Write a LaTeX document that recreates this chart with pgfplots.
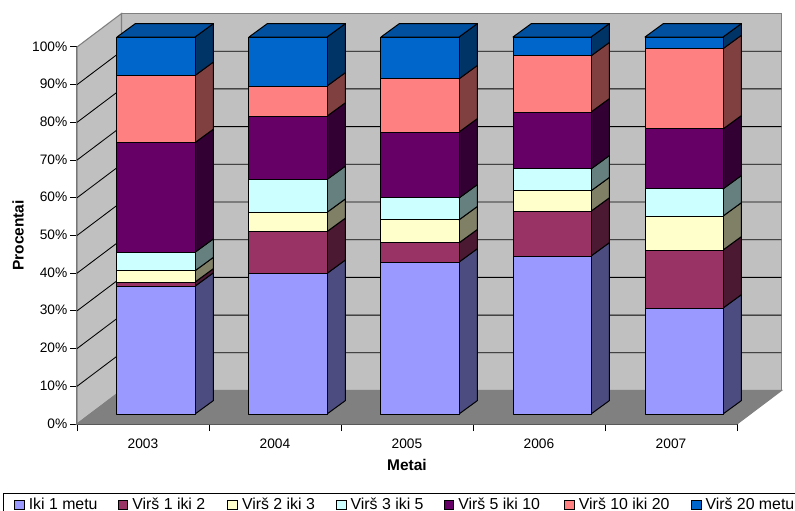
\documentclass[border=0pt]{standalone}
\usepackage{fontspec}
\setmainfont{Liberation Sans}
\usepackage{pgfplots}
\pgfplotsset{compat=1.18}

% Excel-style palette: face colours, sides are the faces at half brightness
\definecolor{serA}{HTML}{9999FF}
\definecolor{serB}{HTML}{993366}
\definecolor{serC}{HTML}{FFFFCC}
\definecolor{serD}{HTML}{CCFFFF}
\definecolor{serE}{HTML}{660066}
\definecolor{serF}{HTML}{FF8080}
\definecolor{serG}{HTML}{0066CC}
\definecolor{serGtop}{HTML}{00509F}
\definecolor{wallgrey}{HTML}{C0C0C0}
\definecolor{floorgrey}{HTML}{808080}

% Oblique depth of the bars, in axis units
\newcommand\liftY{2.65}
\newcommand\backX{0.14}
\newcommand\backY{3.58}

% One stacked segment: cell index, lower and upper percentage, colour
\newcommand\segment[4]{%
  \pgfmathsetmacro\xa{#1+0.303}%
  \pgfmathsetmacro\xb{#1+0.894}%
  \pgfmathsetmacro\xc{\xb+\backX}%
  \pgfmathsetmacro\ya{#2+\liftY}%
  \pgfmathsetmacro\yb{#3+\liftY}%
  \pgfmathsetmacro\yc{#2+\liftY+\backY}%
  \pgfmathsetmacro\yd{#3+\liftY+\backY}%
  \addplot[forget plot, barline, fill=#4!50!black]
    coordinates {(\xb,\ya) (\xc,\yc) (\xc,\yd) (\xb,\yb)} --cycle;
  \addplot[forget plot, barline, fill=#4]
    coordinates {(\xa,\ya) (\xb,\ya) (\xb,\yb) (\xa,\yb)} --cycle;
}
% Lid of a bar, at 100 %
\newcommand\barlid[1]{%
  \pgfmathsetmacro\xa{#1+0.303}%
  \pgfmathsetmacro\xb{#1+0.894}%
  \pgfmathsetmacro\ya{100+\liftY}%
  \pgfmathsetmacro\yb{100+\liftY+\backY}%
  \pgfmathsetmacro\xc{\xa+\backX}%
  \pgfmathsetmacro\xd{\xb+\backX}%
  \addplot[forget plot, barline, fill=serGtop]
    coordinates {(\xa,\ya) (\xb,\ya) (\xd,\yb) (\xc,\yb)} --cycle;
}
% Whole column: cell index, then the six cumulative boundaries
\newcommand\column[7]{%
  \segment{#1}{0}{#2}{serA}%
  \segment{#1}{#2}{#3}{serB}%
  \segment{#1}{#3}{#4}{serC}%
  \segment{#1}{#4}{#5}{serD}%
  \segment{#1}{#5}{#6}{serE}%
  \segment{#1}{#6}{#7}{serF}%
  \segment{#1}{#7}{100}{serG}%
  \barlid{#1}%
}

\pgfplotsset{
  barline/.style={draw=black, line width=0.75pt, line join=round},
  swatch/.style={legend image code/.code={%
    \draw[fill=#1, draw=black, line width=0.75pt] (0,-3.4pt) rectangle (7.2pt,3.4pt);}},
}

\begin{document}
\begin{tikzpicture}
\path[clip, use as bounding box] (0,0) rectangle (596.25pt,382.5pt);
\begin{axis}[
  at={(57.75pt,64.5pt)}, anchor=south west,
  scale only axis, width=495pt, height=282.75pt,
  xmin=0, xmax=5, ymin=0, ymax=100,
  clip=false,
  axis lines=left,
  axis line style={-},
  x axis line style={draw=black, line width=0.8pt},
  y axis line style={draw=black!60, line width=0.8pt},
  tick align=outside,
  tick style={black, line width=0.75pt},
  major tick length=5.25pt,
  xtick={0.5,1.5,2.5,3.5,4.5},
  xticklabels={2003,2004,2005,2006,2007},
  x tick style={draw=none},
  minor xtick={0,1,2,3,4,5},
  minor x tick style={draw=black, line width=0.75pt},
  minor tick length=5.25pt,
  ytick={0,10,...,100},
  yticklabel={\pgfmathprintnumber{\tick}\%},
  /pgf/number format/assume math mode=true,
  ticklabel style={font=\fontsize{10.3}{12}\selectfont},
  xticklabel style={yshift=-2.2pt},
  yticklabel style={xshift=1.5pt, yshift=0.5pt},
  xlabel={Metai},
  ylabel={Procentai},
  label style={font=\fontsize{11.6}{13}\selectfont\bfseries},
  xlabel style={at={(axis cs:2.5,0)}, anchor=center, yshift=-30.7pt},
  ylabel style={at={(axis cs:-0.447,50)}, anchor=center},
  legend columns=7,
  legend cell align=left,
  legend style={
    at={(rel axis cs:-0.1121,-0.183)}, anchor=north west,
    draw=black, line width=0.75pt, fill=white,
    inner xsep=8pt, inner ysep=3.4pt,
    /tikz/column sep=0pt,
    nodes={inner sep=0pt, anchor=west},
    font=\fontsize{11.9}{13}\selectfont,
  },
]
% Walls and floor of the plot box
\addplot[forget plot, draw=floorgrey, line width=0.8pt, fill=wallgrey]
  coordinates {(0.337,8.886) (5.337,8.886) (5.337,108.886) (0.337,108.886)} --cycle;
\addplot[forget plot, draw=floorgrey, line width=0.8pt, fill=wallgrey]
  coordinates {(0,0) (0.337,8.886) (0.337,108.886) (0,100)} --cycle;
\addplot[forget plot, draw=floorgrey, line width=0.8pt, fill=floorgrey]
  coordinates {(0,0) (5,0) (5.337,8.886) (0.337,8.886)} --cycle;
% Grid lines running along the left wall and the back wall
\pgfplotsinvokeforeach{10,20,...,90}{
  \pgfmathsetmacro\yw{#1+8.886}
  \addplot[forget plot, draw=black, line width=0.65pt]
    coordinates {(0,#1) (0.337,\yw) (5.337,\yw)};
}

%        cell  A     A+B   +C    +D    +E    +F
\column{0}{33.9}{35.0}{38.0}{42.9}{72.0}{89.8}
\column{1}{37.3}{48.4}{53.5}{62.2}{79.0}{87.0}
\column{2}{40.3}{45.4}{51.5}{57.3}{74.8}{88.9}
\column{3}{41.9}{53.8}{59.2}{65.0}{80.1}{95.0}
\column{4}{28.1}{43.5}{52.5}{59.7}{75.6}{96.9}

\addlegendimage{swatch=serA}\addlegendentry{\makebox[69.75pt][l]{\hspace{3pt}Iki 1 metu}}
\addlegendimage{swatch=serB}\addlegendentry{\makebox[74.3pt][l]{\hspace{3pt}Virš 1 iki 2}}
\addlegendimage{swatch=serC}\addlegendentry{\makebox[73.5pt][l]{\hspace{3pt}Virš 2 iki 3}}
\addlegendimage{swatch=serD}\addlegendentry{\makebox[72.8pt][l]{\hspace{3pt}Virš 3 iki 5}}
\addlegendimage{swatch=serE}\addlegendentry{\makebox[82.5pt][l]{\hspace{3pt}Virš 5 iki 10}}
\addlegendimage{swatch=serF}\addlegendentry{\makebox[87pt][l]{\hspace{3pt}Virš 10 iki 20}}
\addlegendimage{swatch=serG}\addlegendentry{\makebox[90pt][l]{\hspace{3pt}Virš 20 metu}}
\end{axis}
\end{tikzpicture}
\end{document}
